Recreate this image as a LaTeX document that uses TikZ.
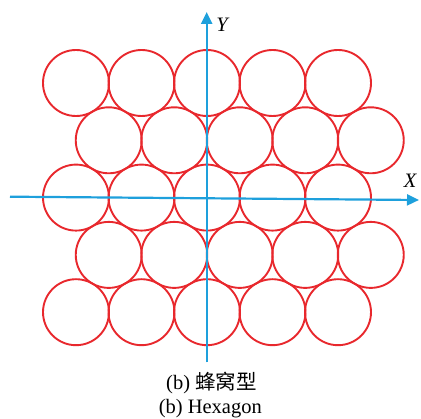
\documentclass[tikz,border=0pt]{standalone}
\usepackage{fontspec}
\setmainfont{Liberation Serif}
\newfontfamily\cjk{Noto Sans CJK SC}
\usetikzlibrary{arrows.meta}
\definecolor{ringred}{RGB}{232,40,45}
\definecolor{axisblue}{RGB}{30,160,220}
\tikzset{
  ring/.style={draw=ringred, line width=1.9pt},
  axis/.style={draw=axisblue, line width=2.2pt, -{Triangle[length=12pt,width=11pt]}},
  lbl/.style={font=\fontsize{20.5}{24}\selectfont, anchor=base}
}

\begin{document}
\begin{tikzpicture}[x=1pt,y=-1pt]
        \useasboundingbox (0,0) rectangle (421,419);
        % \draw[help lines, gray!50, very thin] (0,0) grid[step=50] (421,419);

        % honeycomb: 5 rows of 5, odd rows shifted by half a pitch
        \foreach \r in {0,...,4} {
          \foreach \c in {0,...,4} {
            \pgfmathsetmacro{\sh}{mod(\r,2)*32.75}
            \draw[ring] (76+65.5*\c+\sh, 83+57.3*\r) circle (33pt);
          }
        }

        \coordinate (xs) at (10,196.7);
        \coordinate (xe) at (419,200);
        \coordinate (ys) at (206.7,362.5);
        \coordinate (ye) at (206.7,12);
        \draw[axis] (xs) -- (xe);
        \draw[axis] (ys) -- (ye);
        \node[lbl] (ylab) at (223,32) {\textit{Y}};
        \node[lbl] (xlab) at (410.5,187.5) {\textit{X}};

        \node[lbl] (capcn) at (211.5,389.5) {(b) {\cjk 蜂窝型}};
        \node[lbl] (capen) at (210.3,413.3) {(b) Hexagon};
      \end{tikzpicture}
\end{document}
